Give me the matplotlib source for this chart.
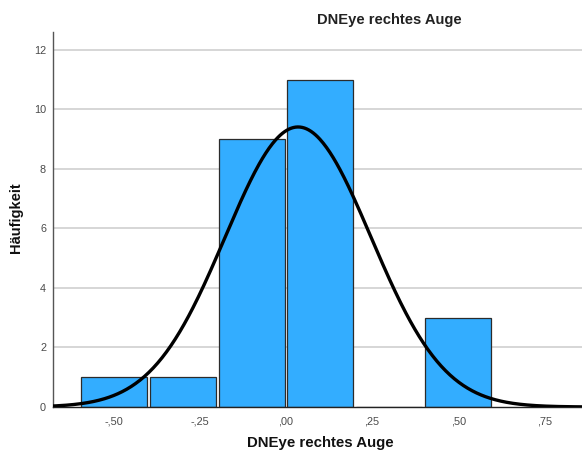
import numpy as np
import matplotlib
matplotlib.use("Agg")
import matplotlib.pyplot as plt

plt.rcParams['font.family'] = ['Liberation Sans', 'DejaVu Sans']

# Histogram bins (lower edges) and counts
bin_edges = [-0.6, -0.4, -0.2, 0.0, 0.2, 0.4, 0.6]
counts = [1, 1, 9, 11, 0, 3]

# Fitted normal distribution parameters
mean_val = 0.035
sd_val = 0.212
n_total = sum(counts)

x_ticks = [-0.5, -0.25, 0.0, 0.25, 0.5, 0.75]
x_ticklabels = ['-,50', '-,25', ',00', ',25', ',50', ',75']
y_ticks = [0, 2, 4, 6, 8, 10, 12]

fig = plt.figure(figsize=(5.82, 4.57), dpi=100)
ax = fig.add_axes([53 / 582, 50 / 457, 529 / 582, 375 / 457])

for y in y_ticks[1:]:
    ax.axhline(y, color='#d3d3d3', lw=1.3, zorder=0)

edges = np.array(bin_edges)
widths = np.diff(edges)
gap = 0.004
ax.bar(edges[:-1] + gap, counts, width=widths - 2 * gap, align='edge',
       color='#33adff', edgecolor='#2b2b2b', linewidth=0.9, zorder=2)

xs = np.linspace(-0.7, 0.9, 500)
bw = widths[0]
pdf = n_total * bw / (sd_val * np.sqrt(2 * np.pi)) * np.exp(-0.5 * ((xs - mean_val) / sd_val) ** 2)
ax.plot(xs, pdf, color='black', lw=2.4, zorder=3, solid_capstyle='round')

ax.set_xlim(-0.677, 0.86)
ax.set_ylim(0, 12.6)
ax.set_xticks(x_ticks)
ax.set_xticklabels(x_ticklabels)
ax.set_yticks(y_ticks)
ax.tick_params(axis='both', length=0, labelsize=7.8, colors='#4a4a4a')
ax.tick_params(axis='x', pad=7)
ax.tick_params(axis='y', pad=5)

for s in ['top', 'right']:
    ax.spines[s].set_visible(False)
ax.spines['left'].set_color('#555555')
ax.spines['left'].set_linewidth(1.0)
ax.spines['bottom'].set_color('#222222')
ax.spines['bottom'].set_linewidth(1.0)

fig.text(389 / 582, 1 - 20 / 457, 'DNEye rechtes Auge', ha='center', va='center',
         fontsize=10.6, fontweight='bold', color='#222222')
fig.text(320 / 582, 1 - 443 / 457, 'DNEye rechtes Auge', ha='center', va='center',
         fontsize=10.8, fontweight='bold', color='#111111')
fig.text(16 / 582, 1 - 218 / 457, 'Häufigkeit', ha='center', va='center', rotation=90,
         fontsize=10.5, fontweight='bold', color='#111111')

fig.savefig('out.png', dpi=100)
